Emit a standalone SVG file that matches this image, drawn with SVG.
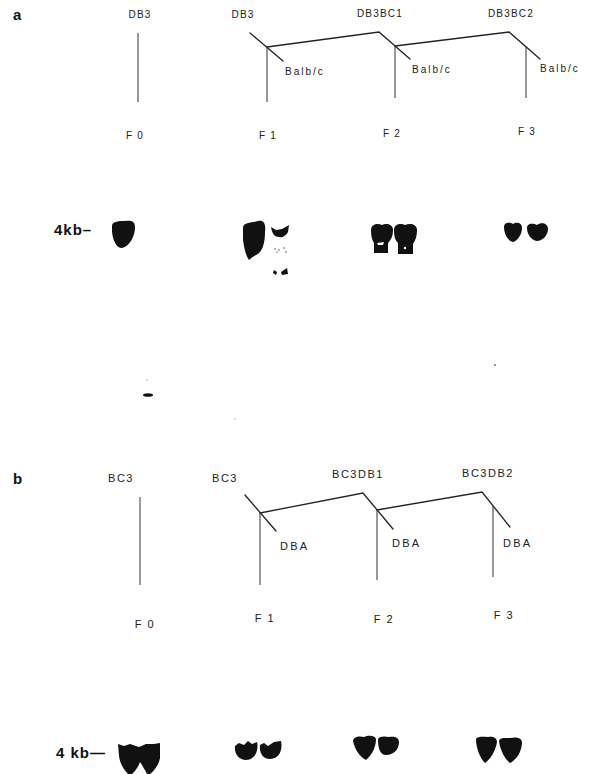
<svg xmlns="http://www.w3.org/2000/svg" width="591" height="774" viewBox="0 0 591 774">
<style>
  .lbl { font-family: "Liberation Sans", Arial, sans-serif; font-size: 10px; fill: #222; letter-spacing: 1.2px; }
  .lblb { font-family: "Liberation Sans", Arial, sans-serif; font-size: 11px; fill: #222; letter-spacing: 1.5px; }
  .panel { font-family: "Liberation Sans", Arial, sans-serif; font-size: 15px; font-weight: bold; fill: #111; }
  .kb { font-family: "Liberation Sans", Arial, sans-serif; font-size: 15px; font-weight: bold; fill: #111; letter-spacing: 1px; }
  .ln { stroke: #222; stroke-width: 1.3; fill: none; stroke-linecap: round; }
  .vl { stroke: #333; stroke-width: 1; fill: none; }
  .blot { fill: #111; }
  .spk { fill: #555; }
</style>

<!-- Panel a -->
<g id="panel-a-labels">
  <text class="panel" x="13" y="20">a</text>
  <text class="lbl" x="140" y="18" text-anchor="middle">DB3</text>
  <text class="lbl" x="243" y="18" text-anchor="middle">DB3</text>
  <text class="lbl" x="380" y="17" text-anchor="middle">DB3BC1</text>
  <text class="lbl" x="511" y="17" text-anchor="middle">DB3BC2</text>
  <text class="lbl" x="285" y="75" style="letter-spacing:2px">Balb/c</text>
  <text class="lbl" x="412" y="73" style="letter-spacing:2px">Balb/c</text>
  <text class="lbl" x="540" y="72" style="letter-spacing:2px">Balb/c</text>
  <text class="lbl" x="135" y="139" text-anchor="middle">F 0</text>
  <text class="lbl" x="268" y="139" text-anchor="middle">F 1</text>
  <text class="lbl" x="392" y="137" text-anchor="middle">F 2</text>
  <text class="lbl" x="527" y="135" text-anchor="middle">F 3</text>
</g>
<g id="panel-a-connectors">
  <line class="vl" x1="138" y1="33" x2="138" y2="102"/>
  <line class="ln" x1="250" y1="33" x2="283" y2="61"/>
  <line class="vl" x1="267" y1="47" x2="267" y2="102"/>
  <polyline class="ln" points="267,47 379,32 410,59"/>
  <line class="vl" x1="395" y1="46" x2="395" y2="98"/>
  <polyline class="ln" points="395,46 509,32 540,59"/>
  <line class="vl" x1="526" y1="47" x2="526" y2="98"/>
</g>
<g id="panel-a-blot">
  <text class="kb" x="54" y="235">4kb–</text>
  <path class="blot" d="M112,226 C112,221 120,221 125,221 C131,220 135,221 135,227 C135,236 130,246 122,248 C116,248 113,240 112,232 Z"/>
  <path class="blot" d="M243,228 C243,222 252,223 258,221 C264,220 266,224 265,232 C265,242 263,250 258,254 C254,256 251,258 249,260 C246,256 244,248 243,240 Z"/>
  <path class="blot" d="M271,227 L276,230 L282,229 L289,225 L288,232 C286,236 282,238 279,237 C275,237 272,234 271,227 Z"/>
  <circle class="spk" cx="275" cy="249" r="0.8"/>
  <circle class="spk" cx="279" cy="250" r="0.8"/>
  <circle class="spk" cx="284" cy="248" r="0.8"/>
  <circle class="spk" cx="286" cy="252" r="0.8"/>
  <circle class="spk" cx="277" cy="252" r="0.7"/>
  <path class="blot" d="M274,270 L277,272 L276,275 L273,273 Z"/>
  <path class="blot" d="M281,272 L287,268 L288,274 L282,275 Z"/>
  <path class="blot" d="M371,230 C371,224 378,223 382,225 C386,223 393,224 393,230 C393,237 390,241 388,243 L388,253 L374,253 L374,243 C372,240 371,236 371,230 Z"/>
  <path class="blot" d="M394,230 C394,224 401,223 405,225 C410,223 417,224 417,230 C417,237 415,241 413,244 L413,254 L398,254 L398,243 C395,240 394,236 394,230 Z"/>
  <path d="M377,243 L384,242 L383,245 L378,245 Z" fill="#fff"/>
  <circle cx="405" cy="248" r="1.2" fill="#fff"/>
  <path class="blot" d="M504,227 C504,222 510,222 513,224 C516,222 522,222 522,228 C522,235 517,241 513,242 C508,241 504,234 504,227 Z"/>
  <path class="blot" d="M527,228 C527,223 533,223 537,225 C541,222 548,223 548,229 C548,236 542,241 537,241 C531,240 527,234 527,228 Z"/>
</g>
<g id="stray-marks">
  <ellipse class="blot" cx="148" cy="395" rx="5" ry="1.8"/>
  <circle class="spk" cx="147" cy="380" r="0.6"/>
  <circle class="blot" cx="495" cy="365" r="0.8"/>
  <circle class="spk" cx="235" cy="419" r="0.5"/>
</g>

<!-- Panel b -->
<g id="panel-b-labels">
  <text class="panel" x="13" y="484">b</text>
  <text class="lblb" x="121" y="482" text-anchor="middle">BC3</text>
  <text class="lblb" x="225" y="482" text-anchor="middle">BC3</text>
  <text class="lblb" x="358" y="478" text-anchor="middle">BC3DB1</text>
  <text class="lblb" x="488" y="477" text-anchor="middle">BC3DB2</text>
  <text class="lblb" x="280" y="550" style="letter-spacing:2.2px">DBA</text>
  <text class="lblb" x="392" y="547" style="letter-spacing:2.2px">DBA</text>
  <text class="lblb" x="503" y="547" style="letter-spacing:2.2px">DBA</text>
  <text class="lblb" x="145" y="628" text-anchor="middle">F 0</text>
  <text class="lblb" x="265" y="622" text-anchor="middle">F 1</text>
  <text class="lblb" x="384" y="623" text-anchor="middle">F 2</text>
  <text class="lblb" x="504" y="619" text-anchor="middle">F 3</text>
</g>
<g id="panel-b-connectors">
  <line class="vl" x1="140" y1="497" x2="140" y2="585"/>
  <line class="ln" x1="245" y1="495" x2="276" y2="531"/>
  <line class="vl" x1="260" y1="513" x2="260" y2="585"/>
  <polyline class="ln" points="260,513 363,493 393,529"/>
  <line class="vl" x1="377" y1="510" x2="377" y2="580"/>
  <polyline class="ln" points="377,510 482,492 510,527"/>
  <line class="vl" x1="493" y1="506" x2="493" y2="577"/>
</g>
<g id="panel-b-blot">
  <text class="kb" x="56" y="758">4 kb—</text>
  <path class="blot" d="M118,744 L124,746 L130,744 L139,747 L146,744 L154,744 L160,743 L160,758 C159,765 153,772 150,774 L147,774 C145,770 142,765 140,762 C138,768 134,772 132,774 L128,774 C124,770 120,764 119,756 Z"/>
  <path class="blot" d="M235,746 L239,743 L244,745 L248,741 L252,744 L257,742 C259,750 255,760 246,760 C239,760 234,754 235,746 Z"/>
  <path class="blot" d="M260,745 L264,743 L268,746 L274,742 L281,741 C283,750 279,759 270,759 C263,759 259,753 260,745 Z"/>
  <path class="blot" d="M353,741 C354,736 360,736 364,737 C368,735 375,735 376,739 C376,747 372,755 366,760 C360,757 355,750 353,741 Z"/>
  <path class="blot" d="M378,739 C379,736 385,736 389,737 C394,736 399,737 399,742 C399,750 393,755 386,755 C380,755 378,748 378,739 Z"/>
  <path class="blot" d="M476,739 C478,736 484,737 488,737 C492,736 497,737 497,742 C496,750 490,760 485,763 C480,758 476,748 476,739 Z"/>
  <path class="blot" d="M499,741 C500,737 506,738 510,738 C515,737 521,737 522,742 C522,752 516,760 510,763 C505,759 500,750 499,741 Z"/>
</g>
</svg>
